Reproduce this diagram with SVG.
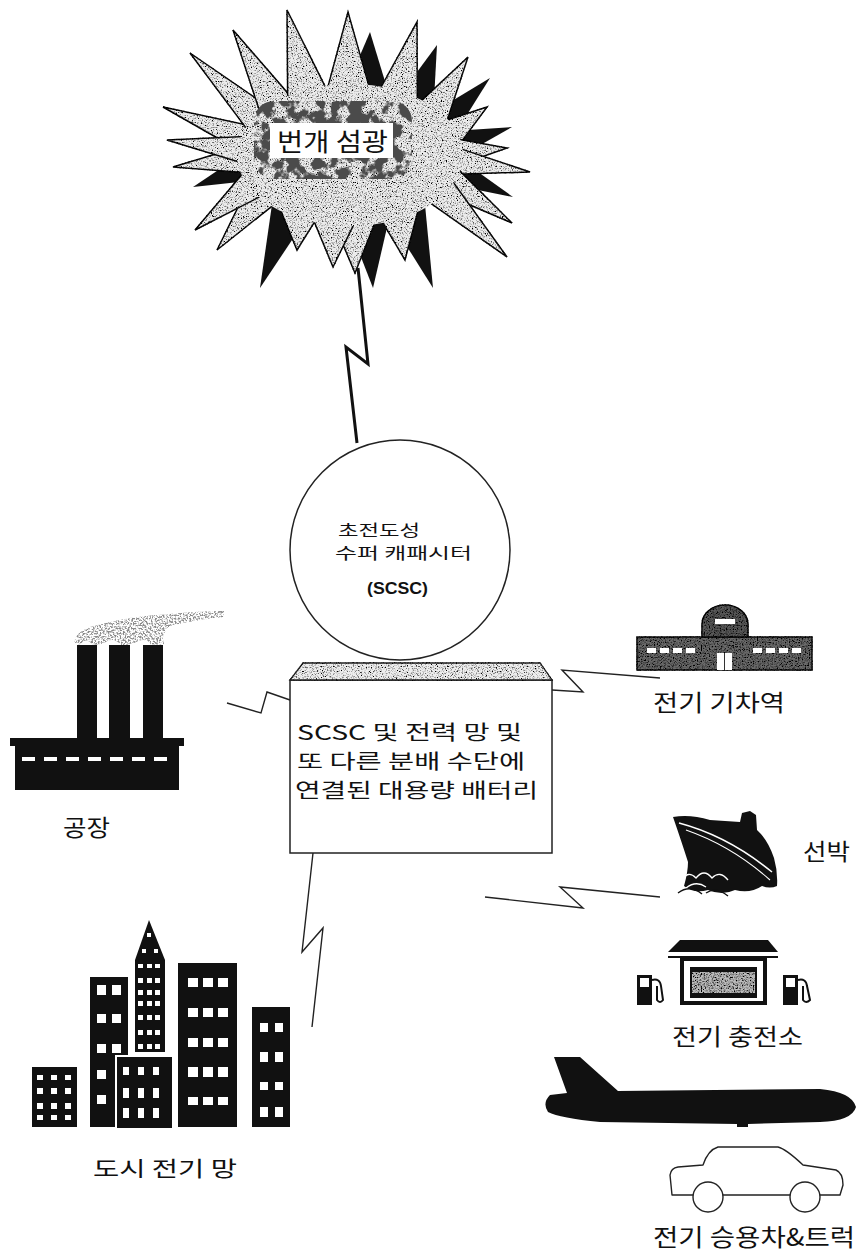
<svg xmlns="http://www.w3.org/2000/svg" width="857" height="1255" viewBox="0 0 857 1255">
  <style>
    .ko { font-family: "Noto Sans CJK KR", "Noto Sans", sans-serif; fill: #111; }
    .lbl { font-size: 23px; }
    .conn { fill: none; stroke: #222; stroke-width: 1.4; stroke-linejoin: miter; }
    .ink { fill: #111; }
    .win { fill: #fff; }
    .spike { fill: #ececec; stroke: #111; stroke-width: 1.5; stroke-linejoin: miter; }
    .spike-dark { fill: #111; }
  </style>
  <defs>
    <!-- light speckle over a flat fill -->
    <filter id="grain" x="-5%" y="-5%" width="110%" height="110%">
      <feTurbulence type="fractalNoise" baseFrequency="0.8" numOctaves="2" seed="7" result="noise"/>
      <feColorMatrix in="noise" type="matrix" values="0 0 0 0 0  0 0 0 0 0  0 0 0 0 0  4 0 0 0 -1.95" result="dots"/>
      <feComposite in="dots" in2="SourceAlpha" operator="in" result="dotsIn"/>
      <feMerge><feMergeNode in="SourceGraphic"/><feMergeNode in="dotsIn"/></feMerge>
    </filter>
    <!-- denser speckle for darker textured areas -->
    <filter id="grain-heavy" x="-5%" y="-5%" width="110%" height="110%">
      <feTurbulence type="fractalNoise" baseFrequency="0.75" numOctaves="2" seed="11" result="noise"/>
      <feColorMatrix in="noise" type="matrix" values="0 0 0 0 0  0 0 0 0 0  0 0 0 0 0  3.2 0 0 0 -1.3" result="dots"/>
      <feComposite in="dots" in2="SourceAlpha" operator="in" result="dotsIn"/>
      <feMerge><feMergeNode in="SourceGraphic"/><feMergeNode in="dotsIn"/></feMerge>
    </filter>
    <!-- speckled smoke: keep only scattered grains of the shape -->
    <filter id="smoke" x="-5%" y="-20%" width="110%" height="140%">
      <feTurbulence type="fractalNoise" baseFrequency="0.6" numOctaves="2" seed="5" result="noise"/>
      <feColorMatrix in="noise" type="matrix" values="0 0 0 0 0.25  0 0 0 0 0.25  0 0 0 0 0.25  4.5 0 0 0 -1.95" result="dots"/>
      <feComposite in="dots" in2="SourceAlpha" operator="in"/>
    </filter>
    <!-- coarse blotches for the dark ring around the flash title -->
    <filter id="blotch" x="-10%" y="-10%" width="120%" height="120%">
      <feTurbulence type="fractalNoise" baseFrequency="0.08" numOctaves="3" seed="4" result="n"/>
      <feColorMatrix in="n" type="matrix" values="0 0 0 0 0.07  0 0 0 0 0.07  0 0 0 0 0.07  9 0 0 0 -3.9" result="b"/>
      <feComposite in="b" in2="SourceAlpha" operator="in"/>
    </filter>
  </defs>

  <rect width="857" height="1255" fill="#fff"/>

  <!-- lightning flash -->
  <g id="flash">
    <g class="spike-dark">
      <polygon points="346.5,87.0 370,32 388.0,91.2"/>
      <polygon points="400.4,94.6 437,45 433.4,110.7"/>
      <polygon points="434.5,111.5 490,78 454.7,134.2"/>
      <polygon points="452.8,130.9 512,127 460.0,156.4"/>
      <polygon points="459.8,159.0 513,197 449.4,184.2"/>
      <polygon points="425.0,204.7 433,288 389.4,218.5"/>
      <polygon points="389.1,218.6 373,288 347.7,223.0"/>
      <polygon points="307.0,217.6 260,288 272.2,203.1"/>
      <polygon points="248.4,181.0 193,187 240.0,155.6"/>
    </g>
    <g filter="url(#grain)">
      <polygon class="spike" points="240.2,151.0 163,107 250.6,125.8"/>
      <polygon class="spike" points="247.7,130.1 190,53 270.2,108.2"/>
      <polygon class="spike" points="260.9,115.1 233,30 291.5,97.4"/>
      <polygon class="spike" points="287.7,99.0 287,10 326.2,88.6"/>
      <polygon class="spike" points="327.5,88.4 348,12 369.5,88.1"/>
      <polygon class="spike" points="379.8,89.5 417,22 417.3,101.2"/>
      <polygon class="spike" points="419.7,102.4 468,57 446.5,122.3"/>
      <polygon class="spike" points="445.0,120.7 487,107 458.8,145.2"/>
      <polygon class="spike" points="456.9,139.0 507,148 458.8,164.9"/>
      <polygon class="spike" points="459.5,148.4 530,172 455.5,174.2"/>
      <polygon class="spike" points="457.7,168.9 512,223 441.4,192.8"/>
      <polygon class="spike" points="452.0,180.5 507,257 429.1,202.2"/>
      <polygon class="spike" points="418.6,208.1 405,260 381.4,220.2"/>
      <polygon class="spike" points="375.5,221.2 355,273 333.6,222.2"/>
      <polygon class="spike" points="354.6,222.9 333,267 313.1,219.1"/>
      <polygon class="spike" points="316.0,219.7 297,250 279.3,207.1"/>
      <polygon class="spike" points="274.3,204.3 217,250 249.9,183.2"/>
      <polygon class="spike" points="261.9,195.7 195,230 243.7,172.4"/>
      <polygon class="spike" points="243.7,172.5 173,167 240.8,146.6"/>
      <polygon class="spike" points="240.7,162.5 167,140 244.1,136.6"/>
      <ellipse cx="350" cy="155" rx="113" ry="71" fill="#ececec"/>
    </g>
    <rect x="254" y="101" width="158" height="78" rx="20" fill="#111" filter="url(#blotch)"/>
    <rect x="270" y="123" width="123" height="35" fill="#fff"/>
    <text class="ko" x="277" y="151" font-size="25" textLength="111" lengthAdjust="spacingAndGlyphs">번개 섬광</text>
  </g>

  <!-- connectors -->
  <g id="connectors">
    <polyline points="358,268 368,364 346,347 357,443" fill="none" stroke="#111" stroke-width="3" stroke-linejoin="miter"/>
    <polyline class="conn" points="227,703 261,713 267,692 290,700"/>
    <polyline class="conn" points="552,690 583,692 562,670 660,678"/>
    <polyline class="conn" points="485,897 583,908 560,887 660,897"/>
    <polyline class="conn" points="313,853 302,952 323,928 312,1027"/>
  </g>

  <!-- superconducting super capacitor -->
  <g id="scsc">
    <circle cx="400" cy="550" r="110" fill="#fff" stroke="#222" stroke-width="1.5"/>
    <text class="ko" x="338" y="536" font-size="15.5" textLength="82" lengthAdjust="spacingAndGlyphs">초전도성</text>
    <text class="ko" x="335" y="559" font-size="15.5" textLength="137" lengthAdjust="spacingAndGlyphs">수퍼 캐패시터</text>
    <text x="367" y="594" font-family="Liberation Sans, Arial, sans-serif" font-weight="bold" font-size="17" fill="#111" textLength="61" lengthAdjust="spacingAndGlyphs">(SCSC)</text>
  </g>

  <!-- battery box -->
  <g id="battery">
    <rect x="290" y="680" width="262" height="173" fill="#fff" stroke="#222" stroke-width="1.5"/>
    <polygon points="303,663 540,663 552,680 290,680" fill="#eeeeee" stroke="#222" stroke-width="1.3" filter="url(#grain)"/>
    <text class="ko" x="297" y="740" font-size="20" textLength="225" lengthAdjust="spacingAndGlyphs">SCSC 및 전력 망 및</text>
    <text class="ko" x="297" y="769" font-size="20" textLength="228" lengthAdjust="spacingAndGlyphs">또 다른 분배 수단에</text>
    <text class="ko" x="295" y="798" font-size="20" textLength="243" lengthAdjust="spacingAndGlyphs">연결된 대용량 배터리</text>
  </g>

  <!-- factory -->
  <g id="factory">
    <path d="M74,642 Q78,628 98,625 Q130,616 170,614 Q200,611 224,611 L223,617 Q195,620 170,626 Q160,634 164,644 L152,646 Q146,636 134,643 L122,646 Q114,636 104,643 L94,646 Q86,636 80,645 Z" fill="#555" filter="url(#smoke)"/>
    <rect class="ink" x="77" y="645" width="20" height="96"/>
    <rect class="ink" x="109" y="645" width="21" height="96"/>
    <rect class="ink" x="143" y="645" width="20" height="96"/>
    <rect class="ink" x="10" y="738" width="174" height="8"/>
    <rect class="ink" x="15" y="745" width="164" height="45"/>
    <g class="win">
      <rect x="22" y="757" width="13" height="4"/>
      <rect x="44" y="757" width="13" height="4"/>
      <rect x="66" y="757" width="13" height="4"/>
      <rect x="88" y="757" width="13" height="4"/>
      <rect x="110" y="757" width="13" height="4"/>
      <rect x="132" y="757" width="13" height="4"/>
      <rect x="154" y="757" width="13" height="4"/>
    </g>
    <text class="ko lbl" x="63" y="836" textLength="47" lengthAdjust="spacingAndGlyphs">공장</text>
  </g>

  <!-- electric train station -->
  <g id="train-station">
    <g filter="url(#grain-heavy)">
      <rect x="637" y="637" width="175" height="33" fill="#6a6a6a" stroke="#111" stroke-width="1.5"/>
      <path d="M702,637 V624 A23,19 0 0 1 748,624 V637 Z" fill="#5a5a5a" stroke="#111" stroke-width="1.5"/>
    </g>
    <g class="win">
      <rect x="715" y="619" width="20" height="5"/>
      <rect x="647" y="648" width="9" height="5"/>
      <rect x="660" y="648" width="9" height="5"/>
      <rect x="673" y="648" width="9" height="5"/>
      <rect x="686" y="648" width="9" height="5"/>
      <rect x="753" y="648" width="9" height="5"/>
      <rect x="766" y="648" width="9" height="5"/>
      <rect x="779" y="648" width="9" height="5"/>
      <rect x="792" y="648" width="9" height="5"/>
      <rect x="717" y="653" width="15" height="17"/>
    </g>
    <line x1="724.5" y1="653" x2="724.5" y2="670" stroke="#333" stroke-width="1"/>
    <text class="ko lbl" x="653" y="711" textLength="132" lengthAdjust="spacingAndGlyphs">전기 기차역</text>
  </g>

  <!-- ship -->
  <g id="ship">
    <path class="ink" d="M673,817 Q690,814 710,820 L740,822 L742,813 L750,811 L756,815 L757,830 Q768,840 774,858 Q778,872 777,886 Q770,889 762,886 Q750,894 735,890 Q722,896 708,890 Q694,894 684,886 Q688,872 688,862 Q682,843 673,817 Z"/>
    <path d="M679,823 Q728,836 772,872" fill="none" stroke="#fff" stroke-width="1.6"/>
    <path d="M686,830 Q732,846 770,880" fill="none" stroke="#fff" stroke-width="1.1"/>
    <path d="M682,880 Q688,870 696,878 Q704,868 712,878 Q720,870 728,880 M686,888 Q696,880 706,887" fill="none" stroke="#fff" stroke-width="1.3"/>
    <path d="M678,893 Q690,884 702,894 M706,893 Q716,886 728,896" fill="none" stroke="#111" stroke-width="1.4"/>
    <text class="ko lbl" x="803" y="860" textLength="47" lengthAdjust="spacingAndGlyphs">선박</text>
  </g>

  <!-- electric charging station -->
  <g id="charging-station">
    <polygon class="ink" points="680,940 768,940 778,952 668,952"/>
    <rect class="ink" x="668" y="956" width="110" height="2"/>
    <rect class="ink" x="680" y="958" width="87" height="47"/>
    <rect class="win" x="684" y="961" width="79" height="40"/>
    <rect class="ink" x="690" y="967" width="67" height="31"/>
    <rect x="692" y="972" width="63" height="21" fill="#bdbdbd" filter="url(#grain-heavy)"/>
    <rect class="ink" x="637" y="975" width="15" height="30"/>
    <rect class="win" x="640" y="978" width="9" height="9"/>
    <path d="M652,980 Q660,978 661,986 L663,1000 Q660,1004 657,1000 L657,986" fill="none" stroke="#111" stroke-width="2"/>
    <rect class="ink" x="783" y="975" width="15" height="30"/>
    <rect class="win" x="786" y="978" width="9" height="9"/>
    <path d="M798,980 Q806,978 807,986 L810,1000 Q806,1004 803,1000 L803,986" fill="none" stroke="#111" stroke-width="2"/>
    <text class="ko lbl" x="672" y="1045" textLength="131" lengthAdjust="spacingAndGlyphs">전기 충전소</text>
  </g>

  <!-- city power grid -->
  <g id="city-grid">
    <rect class="ink" x="32" y="1067" width="45" height="60"/>
    <g class="win">
      <rect x="37" y="1075" width="6" height="5"/><rect x="51" y="1075" width="6" height="5"/><rect x="65" y="1075" width="6" height="5"/>
      <rect x="37" y="1088" width="6" height="6"/><rect x="51" y="1088" width="6" height="6"/><rect x="65" y="1088" width="6" height="6"/>
      <rect x="37" y="1103" width="6" height="6"/><rect x="51" y="1103" width="6" height="6"/><rect x="65" y="1103" width="6" height="6"/>
      <rect x="37" y="1115" width="6" height="5"/><rect x="51" y="1115" width="6" height="5"/><rect x="65" y="1115" width="6" height="5"/>
    </g>
    <rect class="ink" x="90" y="977" width="38" height="150"/>
    <g class="win">
      <rect x="97" y="985" width="9" height="10"/><rect x="112" y="985" width="9" height="10"/>
      <rect x="97" y="1014" width="9" height="9"/><rect x="112" y="1014" width="9" height="9"/>
      <rect x="97" y="1044" width="9" height="9"/><rect x="112" y="1044" width="9" height="9"/>
      <rect x="97" y="1070" width="9" height="9"/>
      <rect x="97" y="1095" width="9" height="9"/>
    </g>
    <polygon class="ink" points="135,960 149,920 165,960 165,1052 135,1052"/>
    <g class="win">
      <rect x="147" y="933" width="4" height="4"/>
      <rect x="142" y="949" width="4" height="4"/><rect x="154" y="949" width="4" height="4"/>
      <rect x="138" y="964" width="5" height="4"/><rect x="147" y="964" width="5" height="4"/><rect x="155" y="964" width="5" height="4"/>
      <rect x="138" y="978" width="5" height="5"/><rect x="147" y="978" width="5" height="5"/><rect x="155" y="978" width="5" height="5"/>
      <rect x="138" y="990" width="5" height="5"/><rect x="147" y="990" width="5" height="5"/><rect x="155" y="990" width="5" height="5"/>
      <rect x="138" y="1001" width="5" height="5"/><rect x="147" y="1001" width="5" height="5"/><rect x="155" y="1001" width="5" height="5"/>
      <rect x="138" y="1015" width="5" height="5"/><rect x="147" y="1015" width="5" height="5"/><rect x="155" y="1015" width="5" height="5"/>
      <rect x="138" y="1030" width="5" height="5"/><rect x="147" y="1030" width="5" height="5"/><rect x="155" y="1030" width="5" height="5"/>
      <rect x="138" y="1044" width="5" height="5"/><rect x="147" y="1044" width="5" height="5"/><rect x="155" y="1044" width="5" height="5"/>
    </g>
    <rect class="ink" x="116" y="1056" width="57" height="73" stroke="#fff" stroke-width="2"/>
    <g class="win">
      <rect x="123" y="1067" width="6" height="8"/><rect x="138" y="1067" width="6" height="8"/><rect x="153" y="1067" width="6" height="8"/>
      <rect x="123" y="1088" width="6" height="10"/><rect x="138" y="1088" width="6" height="10"/><rect x="153" y="1088" width="6" height="10"/>
      <rect x="123" y="1108" width="6" height="10"/><rect x="138" y="1108" width="6" height="10"/><rect x="153" y="1108" width="6" height="10"/>
    </g>
    <rect class="ink" x="178" y="963" width="59" height="164"/>
    <g class="win">
      <rect x="188" y="978" width="10" height="9"/><rect x="203" y="978" width="10" height="9"/><rect x="218" y="978" width="10" height="9"/>
      <rect x="188" y="1008" width="10" height="9"/><rect x="203" y="1008" width="10" height="9"/><rect x="218" y="1008" width="10" height="9"/>
      <rect x="188" y="1038" width="10" height="9"/><rect x="203" y="1038" width="10" height="9"/><rect x="218" y="1038" width="10" height="9"/>
      <rect x="188" y="1067" width="10" height="10"/><rect x="203" y="1067" width="10" height="10"/><rect x="218" y="1067" width="10" height="10"/>
      <rect x="188" y="1097" width="10" height="8"/><rect x="203" y="1097" width="10" height="8"/><rect x="218" y="1097" width="10" height="8"/>
    </g>
    <rect class="ink" x="252" y="1007" width="38" height="120"/>
    <g class="win">
      <rect x="260" y="1023" width="8" height="9"/><rect x="275" y="1023" width="8" height="9"/>
      <rect x="260" y="1052" width="8" height="10"/><rect x="275" y="1052" width="8" height="10"/>
      <rect x="260" y="1082" width="8" height="8"/><rect x="275" y="1082" width="8" height="8"/>
      <rect x="260" y="1107" width="8" height="10"/><rect x="275" y="1107" width="8" height="10"/>
    </g>
    <text class="ko" x="93" y="1176" font-size="21" textLength="144" lengthAdjust="spacingAndGlyphs">도시 전기 망</text>
  </g>

  <!-- aircraft -->
  <g id="aircraft">
    <path class="ink" d="M554,1057 L580,1057 L618,1091 L820,1089 Q852,1092 856,1107 Q852,1121 820,1122 L748,1124 L748,1127 L737,1127 L737,1124 L600,1122 Q560,1118 548,1112 Q542,1103 550,1095 L567,1093 Z"/>
  </g>

  <!-- passenger car -->
  <g id="car">
    <path d="M672,1195 L670,1175 Q671,1168 678,1167 L703,1165 Q708,1150 718,1147 L778,1147 Q786,1149 803,1165 L836,1170 Q843,1173 843,1185 L840,1195 Z" fill="#fff" stroke="#222" stroke-width="1.4" stroke-linejoin="round"/>
    <circle cx="708" cy="1197" r="15" fill="#fff" stroke="#222" stroke-width="1.4"/>
    <circle cx="805" cy="1197" r="15" fill="#fff" stroke="#222" stroke-width="1.4"/>
    <text class="ko" x="653" y="1246" font-size="24" textLength="202" lengthAdjust="spacingAndGlyphs">전기 승용차&amp;트럭</text>
  </g>
</svg>
